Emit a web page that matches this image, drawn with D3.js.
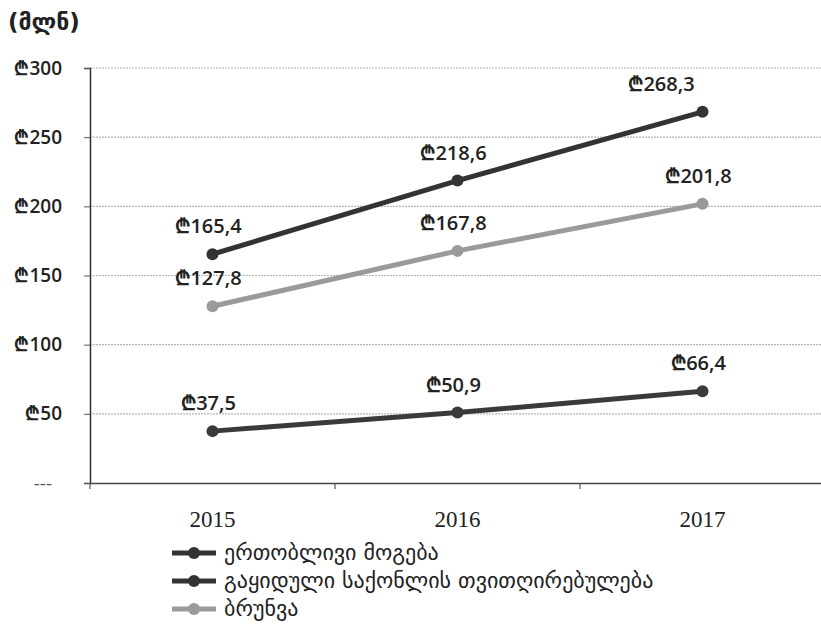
<!DOCTYPE html>
<html><head><meta charset="utf-8">
<script src="https://cdn.jsdelivr.net/npm/d3@7/dist/d3.min.js"></script>
<style>
body{margin:0;background:#fff;}
svg{display:block;}
</style></head>
<body><svg id="c" width="821" height="634"></svg>
<script>
const years = ["2015","2016","2017"];
const seriesNames = ["ერთობლივი მოგება","გაყიდული საქონლის თვითღირებულება","ბრუნვა"];
const topValues = [165.4, 218.6, 268.3];
const bottomValues = [37.5, 50.9, 66.4];
const grayValues = [127.8, 167.8, 201.8];
const yTicks = [0,50,100,150,200,250,300];
const unitLabel = "(მლნ)";

const series = [
  {name: seriesNames[1], values: topValues, color: "#333333"},
  {name: seriesNames[0], values: bottomValues, color: "#3a3a3a"},
  {name: seriesNames[2], values: grayValues, color: "#9a9a9a"}
];
const legendOrder = [seriesNames[0], seriesNames[1], seriesNames[2]];
const legendColors = ["#333333","#333333","#9a9a9a"];
const labelDx = {"268.3": -37};

const svg = d3.select("#c");
const L = 90, R = 825, T = 68, B = 483;
const x = d3.scaleBand().domain(years).range([L, R]);
const y = d3.scaleLinear().domain([0,300]).range([B, T]);
const numFont = "'Open Sans', 'DejaVu Sans', sans-serif";
const geoFont = "'DejaVu Sans', sans-serif";

svg.append("text").attr("x",8).attr("y",30).text(unitLabel)
  .attr("font-family",geoFont).attr("font-weight","bold").attr("font-size",23).attr("fill","#222");

// gridlines
svg.append("g").selectAll("line").data(yTicks.filter(d=>d>0)).join("line")
  .attr("x1",L).attr("x2",821).attr("y1",d=>y(d)).attr("y2",d=>y(d))
  .attr("stroke","#b5b5b5").attr("stroke-width",1.2).attr("stroke-dasharray","2,1");

// y axis
const yAxis = d3.axisLeft(y).tickValues(yTicks).tickSize(6).tickPadding(22)
  .tickFormat(d => d === 0 ? "---" : "₾" + d);
const gy = svg.append("g").attr("transform",`translate(${L},0)`).call(yAxis);
gy.select(".domain").attr("stroke","#333").attr("stroke-width",1.5);
gy.selectAll(".tick line").attr("stroke","#555");
gy.selectAll("text").attr("font-family",numFont).attr("font-size",19).attr("font-weight","600").attr("fill","#222");
gy.selectAll(".tick").filter(d=>d===0).select("text").attr("font-weight","normal").attr("fill","#555").attr("dx",-10).attr("font-size",19);

// x axis
const xAxis = d3.axisBottom(x).tickSizeOuter(0).tickSize(0).tickPadding(28);
const gx = svg.append("g").attr("transform",`translate(0,${B})`).call(xAxis);
gx.select(".domain").attr("stroke","#444").attr("stroke-width",1.5);
gx.selectAll("text").attr("font-family","'Liberation Serif', serif").attr("font-size",23).attr("fill","#222");
gx.append("g").selectAll("line").data([L, L + x.step(), L + 2*x.step()]).join("line")
  .attr("x1",d=>d).attr("x2",d=>d).attr("y1",0).attr("y2",6).attr("stroke","#555").attr("stroke-width",1.2);

const cx = d => x(d) + x.bandwidth()/2;
const line = d3.line().x((d,i)=>cx(years[i])).y(d=>y(d));

series.forEach(s => {
  svg.append("path").datum(s.values).attr("d",line).attr("fill","none")
    .attr("stroke",s.color).attr("stroke-width",5).attr("stroke-linecap","round");
  svg.append("g").selectAll("circle").data(s.values).join("circle")
    .attr("cx",(d,i)=>cx(years[i])).attr("cy",d=>y(d)).attr("r",6).attr("fill",s.color);
  svg.append("g").selectAll("text").data(s.values).join("text")
    .attr("x",(d,i)=>cx(years[i]) - 4 + (labelDx[d]||0)).attr("y",d=>y(d)-21)
    .attr("text-anchor","middle").attr("font-family",numFont).attr("font-size",20).attr("font-weight","600").attr("fill","#222")
    .text(d => "₾" + d.toFixed(1).replace(".",","));
});

// legend
const lg = svg.append("g");
legendOrder.forEach((n,i) => {
  const yy = 553 + i*28;
  lg.append("line").attr("x1",172).attr("x2",216).attr("y1",yy).attr("y2",yy).attr("stroke",legendColors[i]).attr("stroke-width",5);
  lg.append("circle").attr("cx",194).attr("cy",yy).attr("r",6).attr("fill",legendColors[i]);
  lg.append("text").attr("x",224).attr("y",yy+7).text(n).attr("font-family",geoFont).attr("font-size",22).attr("fill","#222");
});
</script></body></html>
